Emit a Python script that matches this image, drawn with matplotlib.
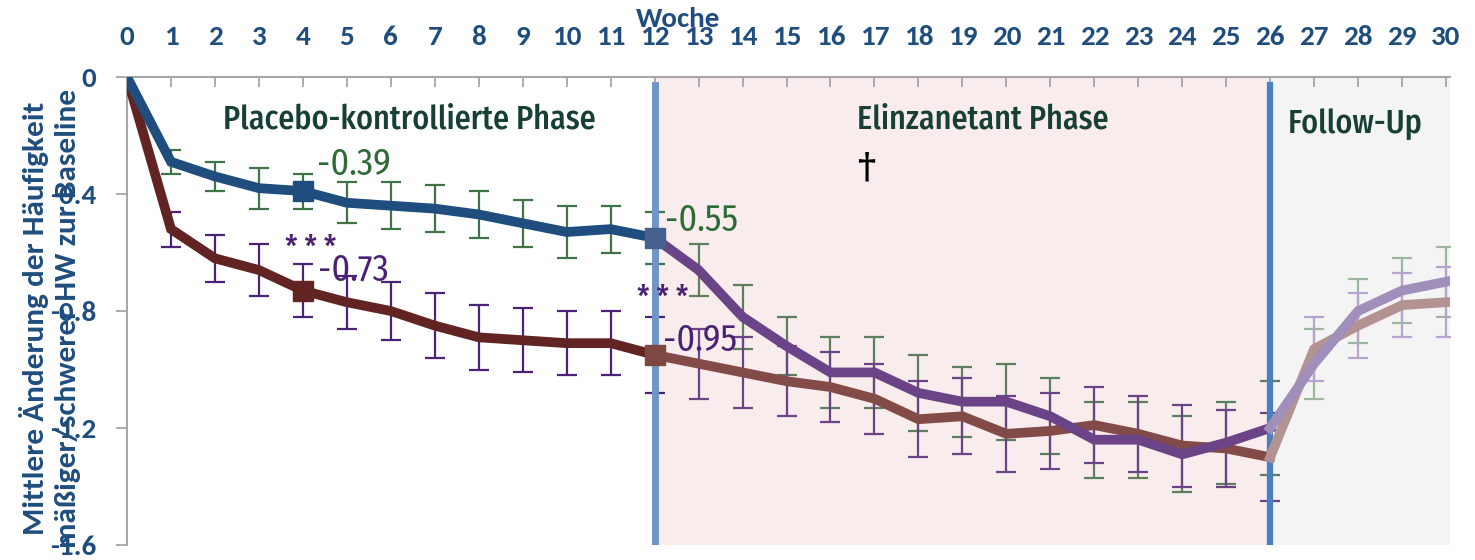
import matplotlib
matplotlib.use('Agg')
import matplotlib.pyplot as plt

# weeks 0-12: placebo-controlled phase
weeks_pc = [0, 1, 2, 3, 4, 5, 6, 7, 8, 9, 10, 11, 12]
placebo_pc = [0, -0.29, -0.34, -0.38, -0.39, -0.43, -0.44, -0.45, -0.47, -0.50, -0.53, -0.52, -0.55]
placebo_pc_err = [0.04, 0.05, 0.07, 0.06, 0.07, 0.08, 0.08, 0.08, 0.08, 0.09, 0.08, 0.09]  # weeks 1-12
elinz_pc = [0, -0.52, -0.62, -0.66, -0.73, -0.77, -0.80, -0.85, -0.89, -0.90, -0.91, -0.91, -0.95]
elinz_pc_err = [0.06, 0.08, 0.09, 0.09, 0.09, 0.10, 0.11, 0.11, 0.11, 0.11, 0.11, 0.13]  # weeks 1-12

# weeks 12-26: everyone on elinzanetant
weeks_el = [12, 13, 14, 15, 16, 17, 18, 19, 20, 21, 22, 23, 24, 25, 26]
switch_el = [-0.55, -0.66, -0.82, -0.92, -1.01, -1.01, -1.08, -1.11, -1.11, -1.16, -1.24, -1.24, -1.29, -1.25, -1.20]
switch_el_err = [0.09, 0.11, 0.10, 0.12, 0.12, 0.13, 0.12, 0.13, 0.13, 0.13, 0.13, 0.13, 0.14, 0.16]  # weeks 13-26
elinz_el = [-0.95, -0.98, -1.01, -1.04, -1.06, -1.10, -1.17, -1.16, -1.22, -1.21, -1.19, -1.22, -1.26, -1.27, -1.30]
elinz_el_err = [0.12, 0.12, 0.12, 0.12, 0.12, 0.13, 0.13, 0.13, 0.13, 0.13, 0.13, 0.14, 0.13, 0.15]  # weeks 13-26

# weeks 26-30: follow-up
weeks_fu = [26, 27, 28, 29, 30]
switch_fu = [-1.20, -0.98, -0.80, -0.73, -0.70]
switch_fu_err = [0.12, 0.11, 0.11, 0.12]  # weeks 27-30
elinz_fu = [-1.30, -0.93, -0.85, -0.78, -0.77]
elinz_fu_err = [0.11, 0.11, 0.11, 0.12]  # weeks 27-30

week_ticks = list(range(0, 31))
y_ticks = [0, -0.4, -0.8, -1.2, -1.6]
y_ticklabels = ['0', '-0.4', '-0.8', '-1.2', '-1.6']

BLUE = '#1F4E7E'
NARROW = ['Fira Sans Condensed', 'Liberation Sans Narrow', 'DejaVu Sans']
BOLD = ['Carlito', 'Lato', 'DejaVu Sans']
PHASE_C = '#173F36'
GREEN_T = '#2E6A36'
PURPLE_T = '#4B2273'

fig = plt.figure(figsize=(14.75, 5.6), dpi=100)
ax = fig.add_axes([127 / 1475, 15 / 560, 1323 / 1475, 468 / 560])
ax.set_xlim(0, 30.09)
ax.set_ylim(-1.6, 0)

# phase backgrounds
ax.axvspan(12, 26, color='#F8ECEC', zorder=0, lw=0)
ax.axvspan(26, 30.09, color='#F4F4F4', zorder=0, lw=0)

eb = dict(fmt='none', elinewidth=1.6, capsize=7, capthick=1.6, zorder=2)
ax.errorbar(weeks_pc[1:], placebo_pc[1:], yerr=placebo_pc_err, ecolor='#3F7446', **eb)
ax.errorbar(weeks_pc[1:], elinz_pc[1:], yerr=elinz_pc_err, ecolor='#4A2277', **eb)
ax.errorbar(weeks_el[1:], switch_el[1:], yerr=switch_el_err, ecolor='#5E7F5E', **eb)
ax.errorbar(weeks_el[1:], elinz_el[1:], yerr=elinz_el_err, ecolor='#6B4387', **eb)
ax.errorbar(weeks_fu[1:], switch_fu[1:], yerr=switch_fu_err, ecolor='#9DB79F', **eb)
ax.errorbar(weeks_fu[1:], elinz_fu[1:], yerr=elinz_fu_err, ecolor='#B6A3CF', **eb)

lw = 7
ax.plot(weeks_el, elinz_el, color='#834B48', lw=lw, zorder=3, solid_joinstyle='miter')
ax.plot(weeks_el, switch_el, color='#6B4387', lw=lw, zorder=3.1, solid_joinstyle='miter')
ax.plot(weeks_pc, elinz_pc, color='#622323', lw=lw, zorder=3.2, solid_joinstyle='miter')
ax.plot(weeks_pc, placebo_pc, color=BLUE, lw=lw, zorder=3.3, solid_joinstyle='miter')

# phase separators
ax.axvline(12, ymin=0, ymax=0.983, color='#7096C8', lw=5, zorder=4)
ax.axvline(26, ymin=0, ymax=0.983, color='#4A7FBF', lw=4.5, zorder=4)

ax.plot(weeks_fu, elinz_fu, color='#B29391', lw=lw, zorder=5, solid_joinstyle='miter')
ax.plot(weeks_fu, switch_fu, color='#A18FBB', lw=lw, zorder=5.1, solid_joinstyle='miter')

# square markers at weeks 4 and 12
ms = 14
ax.plot(4, placebo_pc[4], 's', color=BLUE, ms=ms, zorder=6)
ax.plot(12, placebo_pc[12], 's', color='#46618F', ms=ms, zorder=6)
ax.plot(4, elinz_pc[4], 's', color='#622323', ms=ms, zorder=6)
ax.plot(12, elinz_pc[12], 's', color='#7E4743', ms=ms, zorder=6)

# value labels
num = dict(fontsize=26, family=NARROW, ha='left', va='center', zorder=7)
ax.text(4.32, -0.30, '-0.39', color=GREEN_T, **num)
ax.text(4.34, -0.66, '-0.73', color=PURPLE_T, **num)
ax.text(12.23, -0.49, '-0.55', color=GREEN_T, **num)
ax.text(12.18, -0.90, '-0.95', color=PURPLE_T, **num)
star = dict(fontsize=22, family=NARROW, fontweight='medium', ha='center', va='center', zorder=7)
ax.text(4.18, -0.585, '* * *', color=PURPLE_T, **star)
ax.text(12.18, -0.755, '* * *', color=PURPLE_T, **star)
ax.text(16.8, -0.31, '\u2020', color='black', fontsize=25, family=['DejaVu Serif'], fontweight='bold',
        ha='center', va='center', zorder=7)

# phase titles
ph = dict(color=PHASE_C, fontsize=23, family=NARROW, fontweight='medium', ha='center', va='center')
ax.text(6.43, -0.147, 'Placebo-kontrollierte Phase', **ph)
ax.text(19.47, -0.147, 'Elinzanetant Phase', **ph)
ax.text(27.93, -0.16, 'Follow-Up', **ph)

# axes styling
for s in ['right', 'bottom']:
    ax.spines[s].set_visible(False)
for s in ['top', 'left']:
    ax.spines[s].set_color('#A6A6A6')
    ax.spines[s].set_linewidth(1.5)

ax.xaxis.tick_top()
ax.set_xticks(week_ticks)
ax.set_xticklabels([str(w) for w in week_ticks], color=BLUE, fontsize=21, fontweight='bold', family=BOLD)
ax.tick_params(axis='x', direction='in', length=7, width=1.3, color='#A6A6A6', pad=20)

ax.set_yticks(y_ticks)
ax.set_yticklabels(y_ticklabels, color=BLUE, fontsize=21, fontweight='bold', family=BOLD)
ax.tick_params(axis='y', direction='out', length=8, width=1.3, color='#A6A6A6', pad=14)

fig.text(678 / 1475, 1 - 19 / 560, 'Woche', color=BLUE, fontsize=21, fontweight='bold', family=BOLD, ha='center', va='center')
fig.text(50 / 1475, 1 - 318 / 560, 'Mittlere \u00c4nderung der H\u00e4ufigkeit\nm\u00e4\u00dfiger/schwerer HW zur Baseline',
         color=BLUE, fontsize=22.5, fontweight='bold', family=BOLD, rotation=90, ha='center', va='center',
         multialignment='center', linespacing=1.3)

fig.savefig('out.png', dpi=100)
